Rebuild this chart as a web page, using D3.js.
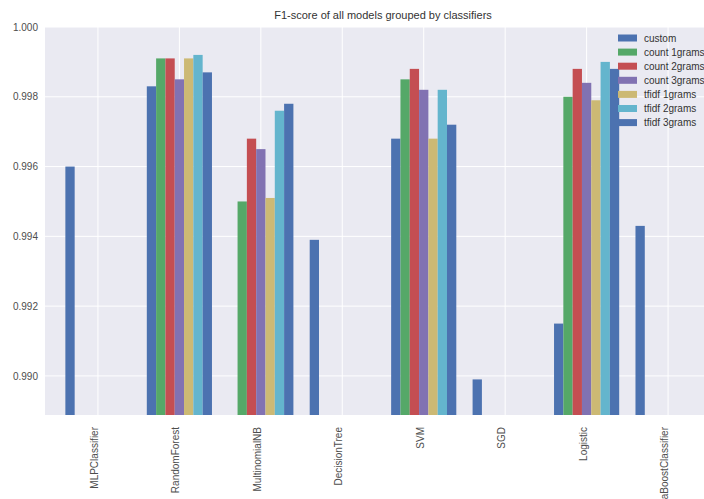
<!DOCTYPE html>
<html>
<head>
<meta charset="utf-8">
<script src="https://cdn.jsdelivr.net/npm/d3@7"></script>
<style>
  html, body { margin: 0; padding: 0; background: #ffffff; overflow: hidden; }
  svg { display: block; font-family: "Liberation Sans", Arial, sans-serif; }
</style>
</head>
<body>
<svg id="chart" width="704" height="499"></svg>
<script>
// Classifiers on the x axis
const classifiers = ["MLPClassifier", "RandomForest", "MultinomialNB", "DecisionTree",
                     "SVM", "SGD", "Logistic", "AdaBoostClassifier"];

// Feature sets (one bar per feature set inside each classifier group)
const featureSets = ["custom", "count 1grams", "count 2grams", "count 3grams",
                     "tfidf 1grams", "tfidf 2grams", "tfidf 3grams"];

// F1-scores per feature set, in classifier order (null = not evaluated)
const custom      = [0.9960, 0.9983, null,   0.9939, 0.9968, 0.9899, 0.9915, 0.9943];
const count1grams = [null,   0.9991, 0.9950, null,   0.9985, null,   0.9980, null];
const count2grams = [null,   0.9991, 0.9968, null,   0.9988, null,   0.9988, null];
const count3grams = [null,   0.9985, 0.9965, null,   0.9982, null,   0.9984, null];
const tfidf1grams = [null,   0.9991, 0.9951, null,   0.9968, null,   0.9979, null];
const tfidf2grams = [null,   0.9992, 0.9976, null,   0.9982, null,   0.9990, null];
const tfidf3grams = [null,   0.9987, 0.9978, null,   0.9972, null,   0.9988, null];

const seriesValues = [custom, count1grams, count2grams, count3grams,
                      tfidf1grams, tfidf2grams, tfidf3grams];

const yTicks = [0.990, 0.992, 0.994, 0.996, 0.998, 1.000];

const colors = ["#4C72B0", "#55A868", "#C44E52", "#8172B2", "#CCB974", "#64B5CD", "#4C72B0"];

const svg = d3.select("#chart");
const plot = { left: 45, top: 27, right: 721, bottom: 415 };

const x = d3.scalePoint().domain(classifiers).range([plot.left, plot.right]).padding(0.65);
const step = x.step();
const sub = d3.scaleBand().domain(featureSets).range([-0.4 * step, 0.4 * step]);
const y = d3.scaleLinear().domain([0.98888, 1.000]).range([plot.bottom, plot.top]);

// Plot background
svg.append("rect")
  .attr("x", plot.left).attr("y", plot.top)
  .attr("width", plot.right - plot.left).attr("height", plot.bottom - plot.top)
  .attr("fill", "#EAEAF2");

// Grid lines
svg.append("g").selectAll("line").data(yTicks).join("line")
  .attr("x1", plot.left).attr("x2", plot.right)
  .attr("y1", d => y(d)).attr("y2", d => y(d))
  .attr("stroke", "#ffffff").attr("stroke-width", 1);
svg.append("g").selectAll("line").data(classifiers).join("line")
  .attr("x1", d => x(d)).attr("x2", d => x(d))
  .attr("y1", plot.top).attr("y2", plot.bottom)
  .attr("stroke", "#ffffff").attr("stroke-width", 1);

// Bars
svg.append("clipPath").attr("id", "plotclip").append("rect")
  .attr("x", plot.left).attr("y", plot.top)
  .attr("width", plot.right - plot.left).attr("height", plot.bottom - plot.top);

const bars = [];
seriesValues.forEach((vals, si) => {
  vals.forEach((v, ci) => {
    if (v !== null) bars.push({ series: featureSets[si], si, cls: classifiers[ci], v });
  });
});

svg.append("g").attr("clip-path", "url(#plotclip)")
  .selectAll("rect").data(bars).join("rect")
  .attr("x", d => x(d.cls) + sub(d.series))
  .attr("width", sub.bandwidth())
  .attr("y", d => y(d.v))
  .attr("height", d => plot.bottom - y(d.v))
  .attr("fill", d => colors[d.si]);

// Y axis
const yAxis = d3.axisLeft(y).tickValues(yTicks).tickFormat(d3.format(".3f")).tickSize(0).tickPadding(7);
const gy = svg.append("g").attr("transform", `translate(${plot.left},0)`).call(yAxis);
gy.select(".domain").remove();
gy.selectAll("text").attr("font-size", 10).attr("fill", "#4d4d4d")
  .style("font-family", "Liberation Sans, Arial, sans-serif");

// X axis with vertical labels
const xAxis = d3.axisBottom(x).tickSize(0).tickPadding(0);
const gx = svg.append("g").attr("transform", `translate(0,${plot.bottom})`).call(xAxis);
gx.select(".domain").remove();
gx.selectAll("text")
  .attr("font-size", 10).attr("fill", "#4d4d4d")
  .style("font-family", "Liberation Sans, Arial, sans-serif")
  .attr("text-anchor", "end")
  .attr("dy", "-0.05em")
  .attr("transform", "translate(0,12) rotate(-90)")
  .attr("x", 0).attr("y", 0);

// Title
svg.append("text")
  .attr("x", (plot.left + plot.right) / 2).attr("y", 19)
  .attr("text-anchor", "middle").attr("font-size", 11).attr("fill", "#333")
  .text("F1-score of all models grouped by classifiers");

// Legend
const legend = svg.append("g").attr("transform", "translate(618,38)");
const item = legend.selectAll("g").data(featureSets).join("g")
  .attr("transform", (d, i) => `translate(0,${i * 14.1})`);
item.append("rect").attr("x", 0).attr("y", -3.5).attr("width", 19).attr("height", 7)
  .attr("fill", (d, i) => colors[i]);
item.append("text").attr("x", 26).attr("y", 0).attr("dy", "0.35em")
  .attr("font-size", 10).attr("fill", "#333").text(d => d);
</script>
</body>
</html>
